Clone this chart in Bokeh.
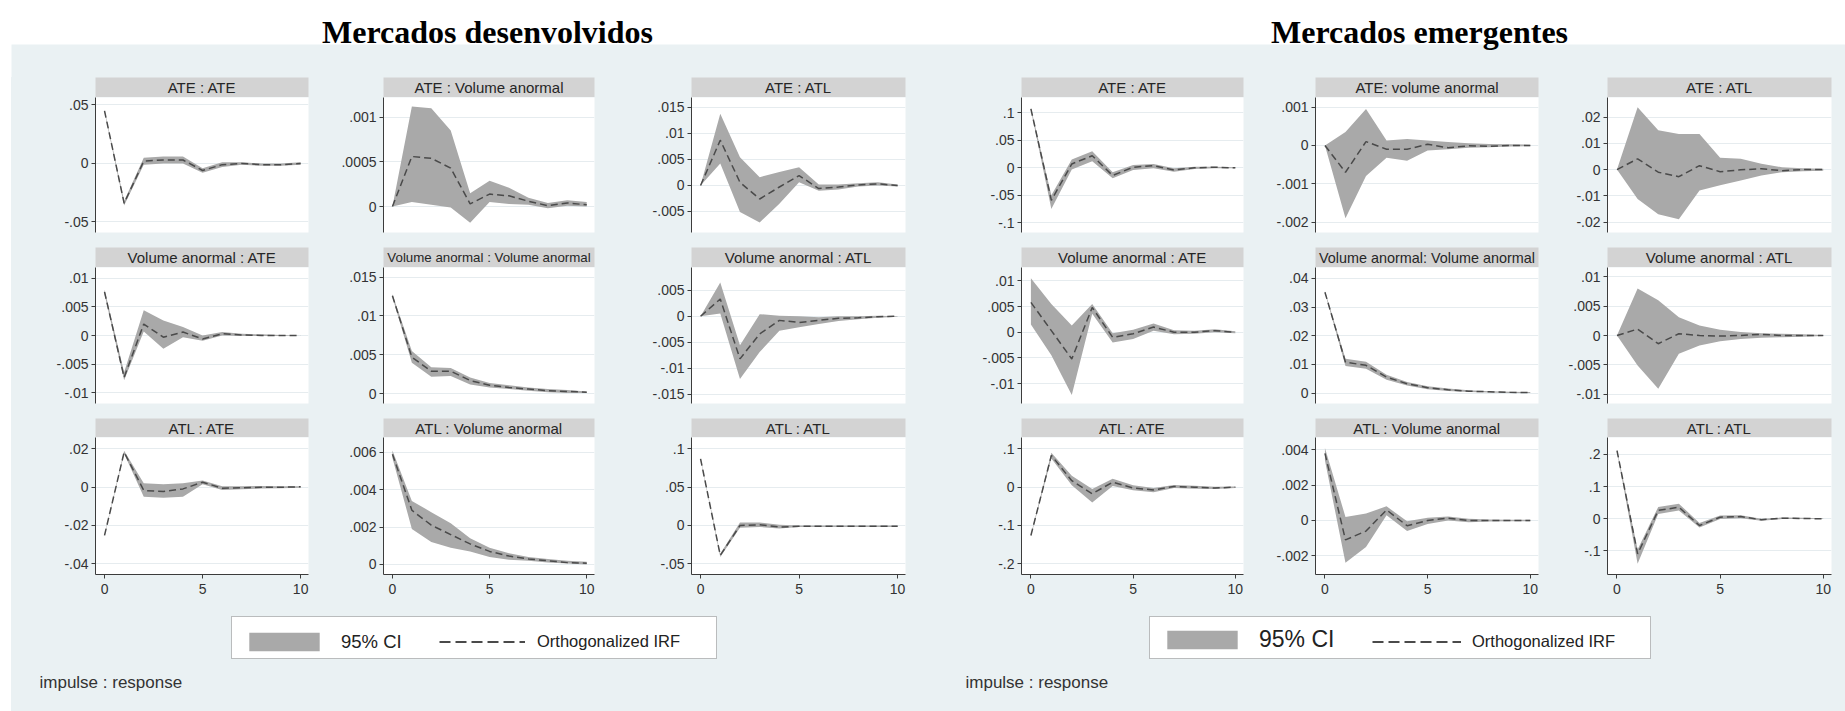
from bokeh.plotting import figure
from bokeh.layouts import row, column
from bokeh.models import (Range1d, FixedTicker, Label, Legend, LegendItem, BoxAnnotation,
                          Spacer, GlobalInlineStyleSheet)
from bokeh.embed import file_html
from bokeh.resources import INLINE

# ---------------- data ----------------
steps = list(range(11))
x_ticks = [0, 5, 10]

title_dev = "Mercados desenvolvidos"
title_emg = "Mercados emergentes"

dev_headers = ["ATE : ATE", "ATE : Volume anormal", "ATE : ATL",
               "Volume anormal : ATE", "Volume anormal : Volume anormal", "Volume anormal : ATL",
               "ATL : ATE", "ATL : Volume anormal", "ATL : ATL"]
emg_headers = ["ATE : ATE", "ATE: volume anormal", "ATE : ATL",
               "Volume anormal : ATE", "Volume anormal: Volume anormal", "Volume anormal : ATL",
               "ATL : ATE", "ATL : Volume anormal", "ATL : ATL"]

# Mercados desenvolvidos
d11_irf = [0.045, -0.034, 0.002, 0.003, 0.003, -0.006, -0.001, 0.000, -0.001, -0.001, 0.000]
d11_lo = [0.044, -0.036, -0.001, 0.000, 0.000, -0.008, -0.003, -0.001, -0.002, -0.002, -0.001]
d11_hi = [0.046, -0.032, 0.005, 0.006, 0.006, -0.004, 0.001, 0.001, 0.000, 0.000, 0.001]

d12_irf = [0.0, 0.00056, 0.00054, 0.00043, 0.00003, 0.00014, 0.00012, 0.00006, 0.00001, 0.00004, 0.00002]
d12_lo = [0.0, 0.00005, 0.00002, -0.00001, -0.00018, 0.00005, 0.00003, 0.00002, -0.00002, 0.00001, 0.0]
d12_hi = [0.0, 0.00112, 0.0011, 0.00085, 0.00015, 0.00029, 0.00021, 0.0001, 0.00004, 0.00007, 0.00005]

d13_irf = [0.0, 0.0087, 0.0006, -0.0026, -0.0003, 0.0019, -0.0006, -0.0003, 0.0001, 0.0003, 0.0]
d13_lo = [0.0, 0.0042, -0.0051, -0.0071, -0.0035, 0.0006, -0.0010, -0.0008, -0.0002, 0.0, -0.0002]
d13_hi = [0.0, 0.0138, 0.0054, 0.0016, 0.0026, 0.0035, 0.0002, 0.0002, 0.0004, 0.0006, 0.0002]

d21_irf = [0.0076, -0.0073, 0.0020, -0.0003, 0.0006, -0.0006, 0.0003, 0.0001, 0.0, 0.0, 0.0]
d21_lo = [0.0072, -0.0078, 0.0007, -0.0023, -0.0003, -0.0009, 0.0, -0.0001, -0.0001, -0.0001, 0.0]
d21_hi = [0.0080, -0.0064, 0.0044, 0.0026, 0.0015, 0.0, 0.0006, 0.0003, 0.0002, 0.0001, 0.0]

d22_irf = [0.0126, 0.0047, 0.0029, 0.0029, 0.0017, 0.0011, 0.0008, 0.0006, 0.0004, 0.0003, 0.0002]
d22_lo = [0.0124, 0.0040, 0.0022, 0.0023, 0.0012, 0.0008, 0.0006, 0.0004, 0.0002, 0.0001, 0.0001]
d22_hi = [0.0128, 0.0055, 0.0034, 0.0033, 0.0021, 0.0014, 0.0011, 0.0008, 0.0006, 0.0005, 0.0003]

d23_irf = [0.0, 0.0033, -0.0082, -0.0034, -0.0008, -0.0012, -0.0008, -0.0004, -0.0003, -0.0001, 0.0]
d23_lo = [0.0, 0.0005, -0.0121, -0.0069, -0.0028, -0.0021, -0.0015, -0.0009, -0.0006, -0.0003, -0.0001]
d23_hi = [0.0, 0.0065, -0.0056, 0.0004, 0.0001, 0.0, -0.0002, 0.0, 0.0, 0.0001, 0.0]

d31_irf = [-0.0252, 0.0183, -0.0017, -0.0023, -0.0009, 0.0026, -0.0005, -0.0003, 0.0, 0.0, 0.0002]
d31_lo = [-0.0256, 0.0175, -0.0050, -0.0055, -0.0050, 0.0015, -0.0015, -0.0011, -0.0007, -0.0005, -0.0003]
d31_hi = [-0.0248, 0.0190, 0.0020, 0.0015, 0.0020, 0.0035, 0.0005, 0.0005, 0.0006, 0.0005, 0.0005]

d32_irf = [0.0059, 0.0029, 0.0021, 0.0016, 0.0011, 0.0007, 0.00045, 0.0003, 0.0002, 0.0001, 0.00007]
d32_lo = [0.0057, 0.0019, 0.0012, 0.0009, 0.0007, 0.0004, 0.00025, 0.0002, 0.0001, 0.00005, 0.0]
d32_hi = [0.0061, 0.0034, 0.0028, 0.0022, 0.0014, 0.0009, 0.0006, 0.0004, 0.0003, 0.0002, 0.00015]

d33_irf = [0.087, -0.039, 0.000, 0.001, -0.002, -0.001, -0.001, -0.001, -0.001, -0.001, -0.001]
d33_lo = [0.086, -0.041, -0.003, -0.002, -0.004, -0.002, -0.002, -0.002, -0.002, -0.002, -0.002]
d33_hi = [0.088, -0.037, 0.004, 0.004, 0.001, 0.000, 0.000, 0.000, 0.000, 0.000, 0.000]

# Mercados emergentes
e11_irf = [0.107, -0.059, 0.007, 0.022, -0.014, 0.001, 0.004, -0.004, 0.0, 0.001, 0.0]
e11_lo = [0.105, -0.075, -0.003, 0.012, -0.019, -0.004, -0.001, -0.007, -0.002, -0.001, -0.001]
e11_hi = [0.109, -0.050, 0.015, 0.030, -0.008, 0.005, 0.007, -0.001, 0.002, 0.002, 0.001]

e12_irf = [0.0, -0.0007, 0.0001, -0.0001, -0.0001, 0.00003, -0.00006, -0.00001, -0.00002, 0.0, 0.0]
e12_lo = [0.0, -0.0019, -0.0008, -0.00032, -0.0004, -0.00013, -0.0001, -0.00006, -0.00005, -0.00003, -0.00002]
e12_hi = [0.0, 0.00035, 0.00095, 0.00013, 0.00017, 0.00013, 0.00009, 0.00006, 0.00004, 0.00003, 0.00002]

e13_irf = [0.0, 0.0041, -0.0010, -0.0027, 0.0015, -0.0008, -0.0001, 0.0003, -0.0004, 0.0, 0.0]
e13_lo = [0.0, -0.0112, -0.0170, -0.0189, -0.0080, -0.0060, -0.0042, -0.0023, -0.0010, -0.0006, -0.0004]
e13_hi = [0.0, 0.0238, 0.0150, 0.0136, 0.0136, 0.0045, 0.0041, 0.0022, 0.0009, 0.0005, 0.0003]

e21_irf = [0.0058, 0.0003, -0.0052, 0.0048, -0.0010, -0.0003, 0.0010, 0.0, 0.0, 0.0003, 0.0]
e21_lo = [0.0015, -0.0045, -0.0122, 0.0036, -0.0020, -0.0013, 0.0003, -0.0004, -0.0003, 0.0, -0.0002]
e21_hi = [0.0105, 0.0055, 0.0013, 0.0055, -0.0002, 0.0005, 0.0017, 0.0004, 0.0003, 0.0006, 0.0002]

e22_irf = [0.0352, 0.0108, 0.0097, 0.0056, 0.0033, 0.0019, 0.0012, 0.0007, 0.0005, 0.0003, 0.0002]
e22_lo = [0.0349, 0.0095, 0.0085, 0.0047, 0.0027, 0.0014, 0.0008, 0.0004, 0.0002, 0.0001, 0.0001]
e22_hi = [0.0355, 0.0120, 0.0110, 0.0064, 0.0039, 0.0024, 0.0016, 0.0010, 0.0007, 0.0005, 0.0004]

e23_irf = [0.0, 0.0011, -0.0014, 0.0003, 0.0, -0.0001, 0.0, 0.0002, 0.0, 0.0, 0.0]
e23_lo = [0.0, -0.0051, -0.0091, -0.0031, -0.0017, -0.0010, -0.0006, -0.0004, -0.0003, -0.0002, -0.0001]
e23_hi = [0.0, 0.0080, 0.0060, 0.0031, 0.0017, 0.0010, 0.0006, 0.0004, 0.0003, 0.0002, 0.0001]

e31_irf = [-0.126, 0.083, 0.017, -0.017, 0.013, -0.002, -0.007, 0.002, 0.0, -0.002, 0.0]
e31_lo = [-0.128, 0.075, 0.005, -0.040, 0.003, -0.008, -0.013, -0.002, -0.004, -0.005, -0.002]
e31_hi = [-0.124, 0.090, 0.030, -0.005, 0.022, 0.005, -0.002, 0.006, 0.004, 0.001, 0.002]

e32_irf = [0.0038, -0.0011, -0.0006, 0.0006, -0.0003, 0.0, 0.00013, 0.0, 0.0, 0.0, 0.0]
e32_lo = [0.0034, -0.0024, -0.0015, 0.0003, -0.0006, -0.0002, 0.0, -0.0001, -0.00006, -0.00004, -0.00004]
e32_hi = [0.0041, 0.0002, 0.0004, 0.0008, -0.00004, 0.00015, 0.00023, 0.0001, 0.00006, 0.00004, 0.00004]

e33_irf = [0.212, -0.109, 0.026, 0.036, -0.021, 0.005, 0.007, -0.003, 0.002, 0.001, 0.0]
e33_lo = [0.209, -0.140, 0.015, 0.026, -0.027, -0.001, 0.002, -0.006, -0.001, -0.001, -0.001]
e33_hi = [0.215, -0.095, 0.037, 0.047, -0.013, 0.010, 0.011, 0.000, 0.004, 0.003, 0.001]

# y-axis ticks of each panel
dev_yticks = [[-0.05, 0, 0.05], [0, 0.0005, 0.001], [-0.005, 0, 0.005, 0.01, 0.015],
              [-0.01, -0.005, 0, 0.005, 0.01], [0, 0.005, 0.01, 0.015], [-0.015, -0.01, -0.005, 0, 0.005],
              [-0.04, -0.02, 0, 0.02], [0, 0.002, 0.004, 0.006], [-0.05, 0, 0.05, 0.1]]
emg_yticks = [[-0.1, -0.05, 0, 0.05, 0.1], [-0.002, -0.001, 0, 0.001], [-0.02, -0.01, 0, 0.01, 0.02],
              [-0.01, -0.005, 0, 0.005, 0.01], [0, 0.01, 0.02, 0.03, 0.04], [-0.01, -0.005, 0, 0.005, 0.01],
              [-0.2, -0.1, 0, 0.1], [-0.002, 0, 0.002, 0.004], [-0.1, 0, 0.1, 0.2]]
# y-axis ranges of each panel
dev_yranges = [(-0.059, 0.0564), (-0.00029, 0.00122), (-0.00904, 0.0169),
               (-0.01185, 0.01185), (-0.00125, 0.01623), (-0.01679, 0.00937),
               (-0.0456, 0.02595), (-0.000535, 0.00679), (-0.064, 0.1149)]
emg_yranges = [(-0.1176, 0.1278), (-0.00227, 0.00125), (-0.024, 0.0275),
               (-0.01387, 0.01259), (-0.00359, 0.0438), (-0.0116, 0.0116),
               (-0.228, 0.1298), (-0.00306, 0.0047), (-0.173, 0.2525)]

dev_series = [(d11_irf, d11_lo, d11_hi), (d12_irf, d12_lo, d12_hi), (d13_irf, d13_lo, d13_hi),
              (d21_irf, d21_lo, d21_hi), (d22_irf, d22_lo, d22_hi), (d23_irf, d23_lo, d23_hi),
              (d31_irf, d31_lo, d31_hi), (d32_irf, d32_lo, d32_hi), (d33_irf, d33_lo, d33_hi)]
emg_series = [(e11_irf, e11_lo, e11_hi), (e12_irf, e12_lo, e12_hi), (e13_irf, e13_lo, e13_hi),
              (e21_irf, e21_lo, e21_hi), (e22_irf, e22_lo, e22_hi), (e23_irf, e23_lo, e23_hi),
              (e31_irf, e31_lo, e31_hi), (e32_irf, e32_lo, e32_hi), (e33_irf, e33_lo, e33_hi)]

legend_ci = "95% CI"
legend_irf = "Orthogonalized IRF"
note_text = "impulse : response"

# ---------------- style / layout ----------------
BG = "#eaf1f3"
STRIP = "#d3d3d3"
BAND = "#a9a9a9"
LINE = "#4a4a4a"
AXIS = "#3c3c3c"
SANS = "Liberation Sans"
SERIF = "Liberation Serif"
X_RANGE = (-0.46, 10.4)
BG_STYLE = {"background-color": BG}
TOP_H = 77  # title band (white) + bluish strip above the first headers

dev_cols = [dict(bl=84, fw=213, br=12), dict(bl=63, fw=211, br=21), dict(bl=76, fw=214, br=10)]
emg_cols = [dict(bl=106, fw=222, br=7), dict(bl=65, fw=223, br=7), dict(bl=62, fw=224, br=14)]
head_h = [20, 20, 19]
plot_h = [135, 136, 137]
plot_bottom = [15, 15, 30]

# approximate Arial/Liberation Sans advance widths (em) used to keep a header inside its strip
_W = {"A": .667, "T": .611, "E": .667, "L": .556, "V": .667, "o": .556, "l": .222, "u": .556,
      "m": .833, "e": .556, "a": .556, "n": .556, "r": .333, "v": .5, " ": .278, ":": .278}


def header_size(text, fw, base=15.0):
    em = sum(_W.get(ch, 0.556) for ch in text)
    return min(base, (fw - 6) / em)


def fmt(v):
    s = "%g" % v
    if s.startswith("0."):
        s = s[1:]
    elif s.startswith("-0."):
        s = "-" + s[2:]
    return s


def header_fig(text, col, r):
    h = figure(frame_width=col["fw"], frame_height=head_h[r], min_border_left=col["bl"],
               min_border_right=col["br"], min_border_top=0, min_border_bottom=0,
               x_range=Range1d(0, 1), y_range=Range1d(0, 1), x_axis_location=None,
               y_axis_location=None, title=None, toolbar_location=None, output_backend="svg",
               background_fill_color=STRIP, border_fill_color=BG, outline_line_color=None)
    h.grid.visible = False
    size = header_size(text, col["fw"])
    h.add_layout(Label(x=0.5, y=0.5, text=text, text_align="center", text_baseline="middle",
                       text_font=SANS, text_font_size="%.1fpx" % size, text_color="#262626"))
    return h


def panel_fig(series, yr, yticks, col, r):
    irf, lo, hi = series
    bottom = (r == 2)
    p = figure(frame_width=col["fw"], frame_height=plot_h[r], min_border_left=col["bl"],
               min_border_right=col["br"], min_border_top=0, min_border_bottom=plot_bottom[r],
               x_range=Range1d(*X_RANGE), y_range=Range1d(*yr),
               x_axis_location="below" if bottom else None, title=None,
               toolbar_location=None, output_backend="svg",
               background_fill_color="white", border_fill_color=BG, outline_line_color=None)
    p.xgrid.visible = False
    yt = FixedTicker(ticks=yticks)
    ax = p.yaxis[0]
    ax.ticker = yt
    ax.major_label_overrides = {t: fmt(t) for t in yticks}
    p.ygrid[0].ticker = yt
    p.ygrid.grid_line_color = "#e6ecef"
    p.ygrid.grid_line_width = 1
    for a in p.axis:
        a.axis_line_color = AXIS
        a.major_tick_line_color = AXIS
        a.minor_tick_line_color = None
        a.major_tick_in = 0
        a.major_tick_out = 4
        a.major_label_text_font = SANS
        a.major_label_text_font_size = "14px"
        a.major_label_text_color = "#333333"
    ax.major_label_standoff = 3
    if bottom:
        xa = p.xaxis[0]
        xa.ticker = FixedTicker(ticks=x_ticks)
        xa.major_label_standoff = 5
    p.varea(x=steps, y1=lo, y2=hi, fill_color=BAND, fill_alpha=1)
    p.line(x=steps, y=irf, line_color=LINE, line_width=1.5, line_dash="7 4")
    return p


def bottom_fig(width, box, sw_x, ci_size, ci_std, ln_x, ln_w, ln_std, note_x, sample):
    H = 107
    b = figure(frame_width=width, frame_height=H, min_border=0,
               x_range=Range1d(0, width), y_range=Range1d(H, 0),
               x_axis_location=None, y_axis_location=None, title=None,
               toolbar_location=None, output_backend="svg",
               background_fill_color=BG, border_fill_color=BG, outline_line_color=None)
    b.grid.visible = False
    # legend key renderers: real series mapped onto an off-screen range (only their keys show)
    b.extra_y_ranges = {"off": Range1d(50, 51)}
    b.add_layout(BoxAnnotation(left=box[0], right=box[1], top=12, bottom=54,
                               fill_color="white", fill_alpha=1,
                               line_color="#333333", line_width=1))
    irf, lo, hi = sample
    r_band = b.varea(x=steps, y1=lo, y2=hi, fill_color=BAND, fill_alpha=1, y_range_name="off")
    r_line = b.line(x=steps, y=irf, line_color=LINE, line_width=2, line_dash="11 5",
                    y_range_name="off")
    leg1 = Legend(items=[LegendItem(label=legend_ci, renderers=[r_band])],
                  location=(sw_x, H - 49), orientation="horizontal", padding=0, margin=0,
                  glyph_width=88, glyph_height=23, label_height=23, label_standoff=ci_std,
                  label_text_font=SANS, label_text_font_size=ci_size, label_text_color="#222222",
                  border_line_color=None, background_fill_alpha=0)
    leg2 = Legend(items=[LegendItem(label=legend_irf, renderers=[r_line])],
                  location=(ln_x, H - 49), orientation="horizontal", padding=0, margin=0,
                  glyph_width=ln_w, glyph_height=23, label_height=23, label_standoff=ln_std,
                  label_text_font=SANS, label_text_font_size="16.5px", label_text_color="#222222",
                  border_line_color=None, background_fill_alpha=0)
    b.add_layout(leg1)
    b.add_layout(leg2)
    b.add_layout(Label(x=note_x, y=78, text=note_text, text_baseline="middle",
                       text_font=SANS, text_font_size="17px", text_color="#333333"))
    return b


def chart(headers, series, yranges, yticks, cols):
    columns = []
    for c in range(3):
        items = []
        for r in range(3):
            k = r * 3 + c
            items.append(header_fig(headers[k], cols[c], r))
            items.append(panel_fig(series[k], yranges[k], yticks[k], cols[c], r))
        columns.append(column(items, spacing=0, styles=BG_STYLE))
    return row(columns, spacing=0, styles=BG_STYLE)


# title band (white) with the top of the bluish graph region below it
t = figure(frame_width=1845, frame_height=TOP_H, min_border=0, x_range=Range1d(0, 1845),
           y_range=Range1d(0, TOP_H), x_axis_location=None, y_axis_location=None, title=None,
           toolbar_location=None, output_backend="svg", background_fill_color="white",
           border_fill_color="white", outline_line_color=None)
t.grid.visible = False
t.add_layout(BoxAnnotation(left=11, right=1845, bottom=0, top=TOP_H - 44,
                           fill_color=BG, fill_alpha=1, line_color=None))
t.add_layout(Label(x=487, y=TOP_H - 31, text=title_dev, text_align="center",
                   text_baseline="alphabetic", text_font=SERIF, text_font_style="bold",
                   text_font_size="32px", text_color="black"))
t.add_layout(Label(x=1419, y=TOP_H - 31, text=title_emg, text_align="center",
                   text_baseline="alphabetic", text_font=SERIF, text_font_style="bold",
                   text_font_size="32px", text_color="black"))

left = column([chart(dev_headers, dev_series, dev_yranges, dev_yticks, dev_cols),
               bottom_fig(904, (220, 705), 229, "18.5px", 13, 428, 86, 12, 28, dev_series[0])],
              spacing=0, styles=BG_STYLE)
right = column([chart(emg_headers, emg_series, emg_yranges, emg_yticks, emg_cols),
                bottom_fig(930, (234, 735), 243, "23px", 13, 457, 89, 11, 50, emg_series[0])],
               spacing=0, styles=BG_STYLE)

root = column([t, row([Spacer(width=11, height=711 - TOP_H), left, right], spacing=0)], spacing=0)
root.stylesheets = [GlobalInlineStyleSheet(css="html, body { margin: 0; padding: 0; overflow: hidden; }")]

open("out.html", "w").write(file_html(root, INLINE))
